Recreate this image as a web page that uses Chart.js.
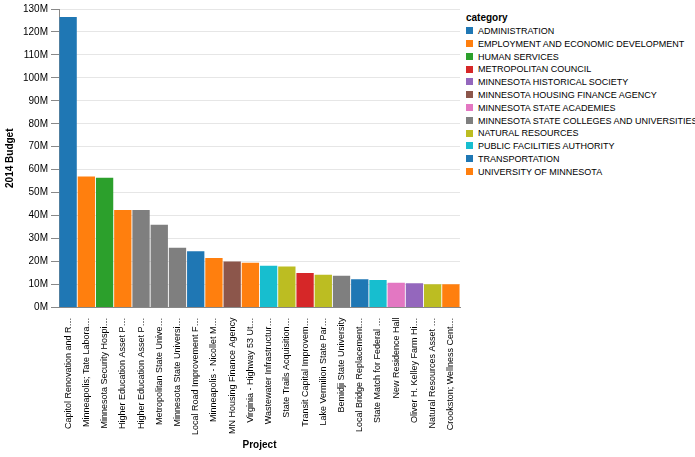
<!DOCTYPE html>
<html><head><meta charset="utf-8">
<script src="https://cdn.jsdelivr.net/npm/chart.js@4"></script>
<style>
body{margin:0;background:#fff;font-family:"Liberation Sans",Arial,sans-serif;}
#wrap{position:absolute;left:0;top:0;width:464px;height:457px;}
#legend{position:absolute;left:466px;top:12px;font-size:9px;color:#000;}
#legend .t{font-weight:bold;font-size:10px;margin-bottom:2px;}
#legend .i{height:12.8px;line-height:12.8px;white-space:nowrap;}
#legend .s{display:inline-block;width:7px;height:7px;margin-right:5px;vertical-align:middle;position:relative;top:-1px;}
</style></head><body>
<div id="wrap"><canvas id="c"></canvas></div>
<div id="legend"></div>
<script>
const projects=["Capitol Renovation and R…","Minneapolis; Tate Labora…","Minnesota Security Hospi…","Higher Education Asset P…","Higher Education Asset P…","Metropolitan State Unive…","Minnesota State Universi…","Local Road Improvement F…","Minneapolis - Nicollet M…","MN Housing Finance Agency","Virginia - Highway 53 Ut…","Wastewater Infrastructur…","State Trails Acquisition…","Transit Capital Improvem…","Lake Vermilion State Par…","Bemidji State University","Local Bridge Replacement…","State Match for Federal …","New Residence Hall","Oliver H. Kelley Farm Hi…","Natural Resources Asset …","Crookston; Wellness Cent…"];
const budgets=[126.5,57,56.5,42.5,42.5,36,26,24.5,21.5,20,19.5,18.2,17.8,15,14.2,13.8,12.3,12,10.8,10.5,10.1,10.1];
const projectCategory=[10,11,2,11,7,7,7,10,11,5,11,9,8,3,8,7,10,9,6,4,8,11];
const categories=["ADMINISTRATION","EMPLOYMENT AND ECONOMIC DEVELOPMENT","HUMAN SERVICES","METROPOLITAN COUNCIL","MINNESOTA HISTORICAL SOCIETY","MINNESOTA HOUSING FINANCE AGENCY","MINNESOTA STATE ACADEMIES","MINNESOTA STATE COLLEGES AND UNIVERSITIES","NATURAL RESOURCES","PUBLIC FACILITIES AUTHORITY","TRANSPORTATION","UNIVERSITY OF MINNESOTA"];
const palette=["#1f77b4","#ff7f0e","#2ca02c","#d62728","#9467bd","#8c564b","#e377c2","#7f7f7f","#bcbd22","#17becf","#1f77b4","#ff7f0e"];

const lg=document.getElementById('legend');
lg.innerHTML='<div class="t">category</div>'+categories.map((c,i)=>`<div class="i"><span class="s" style="background:${palette[i]}"></span>${c}</div>`).join('');

Chart.defaults.font.family='"Liberation Sans",Arial,sans-serif';
Chart.defaults.color='#000';
new Chart(document.getElementById('c'),{
 type:'bar',
 data:{labels:projects,datasets:[{data:budgets.map(v=>v*1e6),backgroundColor:projectCategory.map(i=>palette[i]),borderWidth:0,barPercentage:1,categoryPercentage:0.95}]},
 options:{responsive:true,maintainAspectRatio:false,animation:false,
  layout:{padding:{top:4,right:4,bottom:2}},
  plugins:{legend:{display:false},tooltip:{enabled:false}},
  scales:{
   x:{offset:true,grid:{display:false,drawTicks:true},border:{color:'#888'},
      ticks:{maxRotation:90,minRotation:90,autoSkip:false,font:{size:9},padding:2},
      title:{display:true,text:'Project',font:{size:10,weight:'bold'},padding:{top:2}}},
   y:{min:0,max:130e6,grid:{color:'#e6e6e6',tickColor:'#888'},border:{color:'#888'},
      ticks:{stepSize:10e6,font:{size:10},callback:v=>(v/1e6)+'M'},
      title:{display:true,text:'2014 Budget',font:{size:10,weight:'bold'}}}
  }}
});
</script></body></html>
